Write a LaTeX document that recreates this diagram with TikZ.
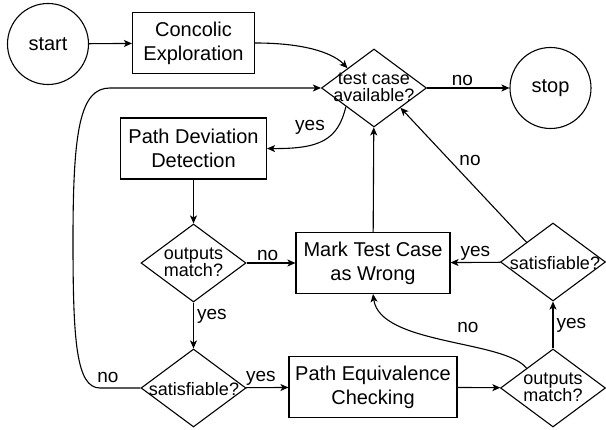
\documentclass[tikz,border=0pt]{standalone}
\usepackage{fontspec}
\setmainfont{Liberation Sans}
\usetikzlibrary{shapes.geometric,arrows.meta,calc}
\begin{document}
\begin{tikzpicture}[x=1pt,y=-1pt,
  line width=1.1pt,
  arr/.style={-{Stealth[length=8pt,width=7pt,inset=2pt]}},
  circ/.style={draw,circle,minimum size=81pt,inner sep=0pt,font=\fontsize{20}{24}\selectfont},
  proc/.style={draw,rectangle,inner sep=0pt,minimum height=61pt,align=center,font=\fontsize{20}{24}\selectfont},
  dia/.style={draw,diamond,minimum width=105pt,minimum height=78pt,inner sep=0pt},
  dtext/.style={align=center,inner sep=0pt,font=\fontsize{18}{17}\selectfont},
  lbl/.style={inner sep=1.5pt,font=\fontsize{19}{22}\selectfont}]
\useasboundingbox (0,0) rectangle (606,430);
% nodes
\node[circ] (start) at (48,44) {start};
\node[proc,minimum width=122pt] (conc) at (193.5,43) {Concolic\\Exploration};
\node[dia] (d1) at (374,88) {};
\node[dtext] (d1t) at (374,87) {test case\\available?};
\node[circ] (stop) at (550.5,88) {stop};
\node[proc,minimum width=146pt] (pdd) at (193.5,148.5) {Path Deviation\\Detection};
\node[dia] (om1) at (193.5,263) {};
\node[dtext] (om1t) at (193.5,262) {outputs\\match?};
\node[proc,minimum width=154pt] (mark) at (373,263) {Mark Test Case\\as Wrong};
\node[dia] (sat2) at (553,262) {};
\node[dtext] (sat2t) at (555,263) {satisfiable?};
\node[dia] (sat1) at (193.5,388) {};
\node[dtext] (sat1t) at (194,389) {satisfiable?};
\node[proc,minimum width=168pt] (pec) at (373,387) {Path Equivalence\\Checking};
\node[dia] (om2) at (553,388) {};
\node[dtext] (om2t) at (553,387) {outputs\\match?};
% helper coordinates on diamond edges
\coordinate (d1tl) at ($(d1.west)!0.5!(d1.north)$);
\coordinate (d1bl) at ($(d1.west)!0.47!(d1.south)$);
\coordinate (d1br) at ($(d1.east)!0.5!(d1.south)$);
\coordinate (sat2tl) at ($(sat2.west)!0.5!(sat2.north)$);
\coordinate (om2tl) at ($(om2.west)!0.5!(om2.north)$);
\coordinate (lp1) at (100,388);
\coordinate (lp2) at (73,240);
\coordinate (lp3) at (110,88);
% connectors
\draw[arr] (start) -- (conc);
\draw[arr] (conc.east) .. controls (310,43) and (335,55) .. (d1tl);
\draw[arr] (d1) -- node[lbl,above,pos=0.43] {no} (stop);
\draw[arr] (d1bl) .. controls (338,140) and (320,149) .. (pdd.east);
\node[lbl] (lyes1) at (310,127) {yes};
\draw[arr] (pdd) -- (om1);
\draw[arr] (om1) -- node[lbl,above,pos=0.43] {no} (mark);
\draw[arr] (om1) -- node[lbl,right,pos=0.3,inner sep=3pt] {yes} (sat1);
\draw[arr] (sat1.west) -- (lp1) .. controls (76,388) and (73,340) .. (lp2) .. controls (73,130) and (80,88) .. (lp3) -- (d1.west);
\node[lbl] (lno1) at (108,377) {no};
\draw[arr] (sat1) -- node[lbl,above,pos=0.35] {yes} (pec);
\draw[arr] (pec) -- (om2);
\draw[arr] (om2) -- node[lbl,right,inner sep=3pt] {yes} (sat2);
\draw[arr] (om2tl) .. controls (505,340) and (380,345) .. (mark.south);
\node[lbl] (lno2) at (468,327) {no};
\draw[arr] (sat2) -- node[lbl,above] {yes} (mark);
\draw[arr] (sat2tl) -- (d1br);
\node[lbl] (lno3) at (470,160) {no};
\draw[arr] (mark) -- (d1);
\end{tikzpicture}
\end{document}
